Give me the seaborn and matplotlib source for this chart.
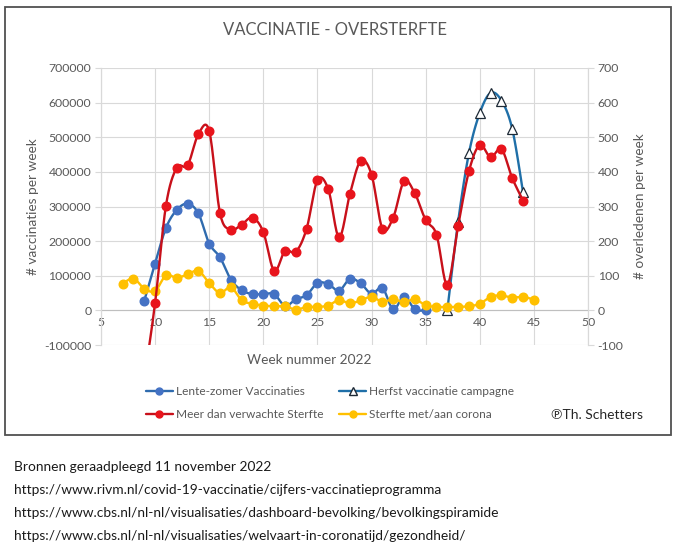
import numpy as np
import pandas as pd
import seaborn as sns
import matplotlib
matplotlib.use("Agg")
import matplotlib.pyplot as plt
from matplotlib.lines import Line2D
from matplotlib.patches import Rectangle

# ---------------- data ----------------
weeks_lente = list(range(9, 36))
vacc_lente = [28000, 135000, 238000, 290000, 308000, 280000, 193000, 153000, 89000, 58000,
              47000, 47000, 47000, 13000, 32000, 44000, 79000, 76000, 57000, 91000,
              78000, 48000, 65000, 3000, 40000, 3000, 0]

weeks_herfst = list(range(37, 45))
vacc_herfst = [0, 256000, 454000, 570000, 628000, 606000, 524000, 341000]

weeks_over = list(range(9, 45))
oversterfte = [-200, 22, 302, 412, 419, 509, 518, 280, 233, 248,
               268, 226, 114, 172, 169, 236, 376, 350, 211, 336,
               432, 392, 236, 268, 373, 338, 261, 219, 74, 244,
               402, 478, 442, 466, 382, 317]

weeks_corona = list(range(7, 46))
corona = [77, 92, 63, 56, 101, 94, 104, 114, 79, 50,
          67, 29, 19, 14, 12, 12, 2, 10, 10, 14,
          30, 20, 29, 39, 25, 32, 24, 32, 15, 10,
          10, 10, 12, 19, 39, 43, 37, 39, 31]

x_ticks = list(range(5, 51, 5))
left_ticks = list(range(-100000, 700001, 100000))
right_ticks = list(range(-100, 701, 100))

labels = ["Lente-zomer Vaccinaties", "Herfst vaccinatie campagne",
          "Meer dan verwachte Sterfte", "Sterfte met/aan corona"]

title = "VACCINATIE - OVERSTERFTE"
xlabel = "Week nummer 2022"
ylabel_left = "# vaccinaties per week"
ylabel_right = "# overledenen per week"
credit = "\u2117Th. Schetters"
sources = ["Bronnen geraadpleegd 11 november 2022",
           "https://www.rivm.nl/covid-19-vaccinatie/cijfers-vaccinatieprogramma",
           "https://www.cbs.nl/nl-nl/visualisaties/dashboard-bevolking/bevolkingspiramide",
           "https://www.cbs.nl/nl-nl/visualisaties/welvaart-in-coronatijd/gezondheid/"]


def smooth(x, y, n=16):
    """Excel-like smoothed line (cubic Bezier, tension 1/6) for drawing."""
    P = np.column_stack([np.asarray(x, float), np.asarray(y, float)])
    out = []
    for i in range(len(P) - 1):
        p0 = P[i - 1] if i > 0 else P[i]
        p1, p2 = P[i], P[i + 1]
        p3 = P[i + 2] if i + 2 < len(P) else P[i + 1]
        c1 = p1 + (p2 - p0) / 6
        c2 = p2 - (p3 - p1) / 6
        t = np.linspace(0, 1, n, endpoint=(i == len(P) - 2))[:, None]
        out.append((1 - t) ** 3 * p1 + 3 * (1 - t) ** 2 * t * c1 + 3 * (1 - t) * t ** 2 * c2 + t ** 3 * p2)
    S = np.vstack(out)
    return S[:, 0], S[:, 1]


# ---------------- style ----------------
sns.set_style("white")
plt.rcParams["font.family"] = ["Lato", "DejaVu Sans"]
TXT = "#595959"
GRID = "#D9D9D9"

BLUE_L, BLUE_M = "#2F6BAE", "#4472C4"
HERF_L = "#1F6FA8"
RED_L, RED_M = "#C8101A", "#E8141C"
YEL = "#FFC000"

fig = plt.figure(figsize=(6.8, 5.58), dpi=100)
W, H = 680, 558
ax = fig.add_axes([101 / W, 1 - 345 / H, (588 - 101) / W, (345 - 68) / H])
ax2 = ax.twinx()

# frame around chart
fig.patches.append(Rectangle((5 / W, 1 - 435 / H), 666 / W, 428 / H, transform=fig.transFigure,
                             fill=False, edgecolor="#505050", linewidth=1.3))

# ---------------- primary axis: vaccinations ----------------
sx, sy = smooth(weeks_lente, vacc_lente)
sns.lineplot(x=sx, y=sy, ax=ax, sort=False, estimator=None, color=BLUE_L, linewidth=1.7, zorder=3)
ax.plot(weeks_lente, vacc_lente, linestyle="none", marker="o", markersize=6.2,
        markerfacecolor=BLUE_M, markeredgecolor=BLUE_M, zorder=4)

sx, sy = smooth(weeks_herfst, vacc_herfst)
sns.lineplot(x=sx, y=sy, ax=ax, sort=False, estimator=None, color=HERF_L, linewidth=1.7, zorder=3)
ax.plot(weeks_herfst, vacc_herfst, linestyle="none", marker="^", markersize=7.5,
        markerfacecolor="white", markeredgecolor="#1E2A36", markeredgewidth=0.9, zorder=4)

# ---------------- secondary axis: deaths ----------------
sx, sy = smooth(weeks_corona, corona)
sns.lineplot(x=sx, y=sy, ax=ax2, sort=False, estimator=None, color=YEL, linewidth=1.7, zorder=2)
ax2.plot(weeks_corona, corona, linestyle="none", marker="o", markersize=6.2,
         markerfacecolor=YEL, markeredgecolor=YEL, zorder=2)

sx, sy = smooth(weeks_over, oversterfte)
sns.lineplot(x=sx, y=sy, ax=ax2, sort=False, estimator=None, color=RED_L, linewidth=1.7, zorder=3)
ax2.plot(weeks_over, oversterfte, linestyle="none", marker="o", markersize=6.2,
         markerfacecolor=RED_M, markeredgecolor=RED_M, zorder=4)

# ---------------- axes formatting ----------------
ax.set_xlim(5, 50)
ax.set_ylim(-100000, 700000)
ax2.set_ylim(-100, 700)

ax.set_xticks(x_ticks)
ax.set_xticklabels([str(v) for v in x_ticks])
ax.set_yticks(left_ticks)
ax.set_yticklabels([str(v) for v in left_ticks])
ax2.set_yticks(right_ticks)
ax2.set_yticklabels([str(v) for v in right_ticks])

ax.grid(True, color=GRID, linewidth=0.8)
ax2.grid(False)
ax.set_axisbelow(True)

for a in (ax, ax2):
    for s in a.spines.values():
        s.set_color(GRID)
        s.set_linewidth(0.8)
    a.spines["top"].set_visible(False)
ax.spines["bottom"].set_position(("data", 0))
ax.spines["bottom"].set_color("#BFBFBF")
ax2.spines["bottom"].set_visible(False)

ax.tick_params(axis="x", length=0, pad=5, labelsize=8.8, labelcolor=TXT)
ax.tick_params(axis="y", length=4, width=0.8, color=GRID, pad=3, labelsize=8.8, labelcolor=TXT)
ax2.tick_params(axis="y", length=4, width=0.8, color=GRID, pad=3, labelsize=8.8, labelcolor=TXT)

ax.set_xlabel(xlabel, fontsize=9.8, color=TXT)
ax.xaxis.set_label_coords((309 - 101) / 487, (345 - 354) / 277)
ax.set_ylabel(ylabel_left, fontsize=9.8, color=TXT)
ax.yaxis.set_label_coords((39 - 101) / 487, 0.5)
ax2.set_ylabel(ylabel_right, fontsize=9.8, color=TXT)
ax2.yaxis.set_label_coords((634 - 101) / 487, 0.5)

fig.text(335 / W, 1 - 30 / H, title, ha="center", va="center", fontsize=12.0, color=TXT)

# ---------------- legend (row-wise order) ----------------
h_lente = Line2D([], [], color=BLUE_L, lw=1.7, marker="o", markersize=5, markerfacecolor=BLUE_M, markeredgecolor=BLUE_M)
h_herfst = Line2D([], [], color=HERF_L, lw=1.7, marker="^", markersize=5.5, markerfacecolor="white", markeredgecolor="#1E2A36")
h_over = Line2D([], [], color=RED_L, lw=1.7, marker="o", markersize=5, markerfacecolor=RED_M, markeredgecolor=RED_M)
h_cor = Line2D([], [], color=YEL, lw=1.7, marker="o", markersize=5, markerfacecolor=YEL, markeredgecolor=YEL)
handles = [h_lente, h_over, h_herfst, h_cor]
leg_labels = [labels[0], labels[2], labels[1], labels[3]]
leg = fig.legend(handles, leg_labels, ncol=2, loc="center", bbox_to_anchor=(330 / W, 1 - 403 / H),
                 frameon=False, fontsize=8.6, handlelength=2.3, handletextpad=0.25,
                 columnspacing=1.3, labelspacing=1.0)
for t in leg.get_texts():
    t.set_color(TXT)

fig.text(643 / W, 1 - 415 / H, credit, ha="right", va="center", fontsize=10, color="#262626")

for i, line in enumerate(sources):
    fig.text(14 / W, 1 - (467 + 23 * i) / H, line, ha="left", va="center", fontsize=9.9, color="#1A1A1A")

fig.savefig("out.png", dpi=100)
